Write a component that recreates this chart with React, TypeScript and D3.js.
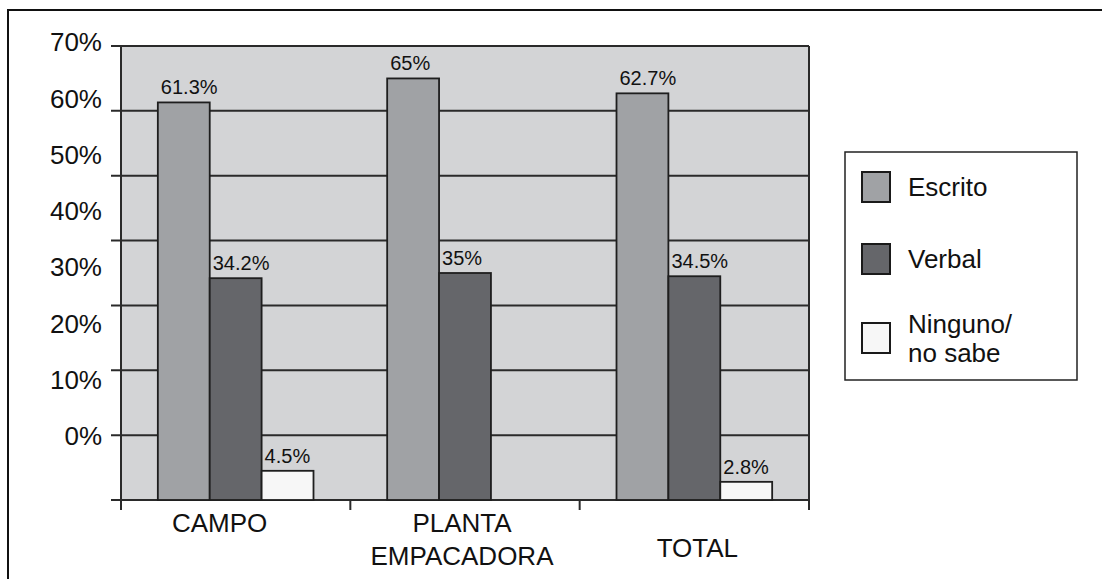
import React from "react";
import * as d3 from "d3";

const categories = ["CAMPO", "PLANTA\nEMPACADORA", "TOTAL"];
const seriesNames = ["Escrito", "Verbal", "Ninguno/\nno sabe"];
const escrito = [61.3, 65, 62.7];
const verbal = [34.2, 35, 34.5];
const ninguno = [4.5, null, 2.8];
const valueLabels = [
  ["61.3%", "34.2%", "4.5%"],
  ["65%", "35%", ""],
  ["62.7%", "34.5%", "2.8%"],
];
const yTicks = [0, 10, 20, 30, 40, 50, 60, 70];
const colors = ["#a0a2a5", "#65666a", "#f7f7f7"];

const W = 1102;
const H = 579;
const FONT = "'Liberation Sans', Arial, Helvetica, sans-serif";

export default function App() {
  const left = 121, right = 809, top = 46, bottom = 500;
  const y = d3.scaleLinear().domain([0, 70]).range([bottom, top]);
  // tick labels in the reference sit on their own (shifted) spacing
  const yLabel = d3.scaleLinear().domain([0, 70]).range([435.8, 42]);
  const x0 = d3.scaleBand<string>().domain(categories).range([left, right]).padding(0);
  const x1 = d3
    .scaleBand<string>()
    .domain(seriesNames)
    .range([0, x0.bandwidth()])
    .paddingInner(0)
    .paddingOuter(0.71);
  const series = [escrito, verbal, ninguno];
  const labelDx = [-16, -3, 3];
  const labelDy = [532, 532, 557];
  const legendTops = [172, 244, 323];

  return (
    <svg
      width={W}
      height={H}
      style={{ position: "absolute", left: 0, top: 0, background: "#fff" }}
      fontFamily={FONT}
    >
      <rect x={8} y={10} width={1200} height={700} fill="#fff" stroke="#111" strokeWidth={2} />
      {/* plot background */}
      <rect x={left} y={top} width={right - left} height={bottom - top} fill="#d3d4d6" />
      {/* gridlines + left ticks */}
      {yTicks.map((t) => (
        <line
          key={"g" + t}
          x1={left - 10}
          x2={right}
          y1={y(t)}
          y2={y(t)}
          stroke="#2a2a2a"
          strokeWidth={2}
        />
      ))}
      {/* y tick labels */}
      {yTicks.map((t) => (
        <text
          key={"yl" + t}
          x={102}
          y={yLabel(t)}
          dy="0.36em"
          textAnchor="end"
          fontSize={26}
          fill="#111"
        >
          {t + "%"}
        </text>
      ))}
      {/* bars */}
      {categories.map((c, ci) =>
        seriesNames.map((s, si) => {
          const v = series[si][ci];
          if (v == null) return null;
          const bx = (x0(c) as number) + (x1(s) as number);
          return (
            <g key={c + s}>
              <rect
                x={bx}
                y={y(v)}
                width={x1.bandwidth()}
                height={bottom - y(v)}
                fill={colors[si]}
                stroke="#1e1e1e"
                strokeWidth={1.8}
              />
              <text x={bx + 3} y={y(v) - 8} fontSize={20} fill="#111">
                {valueLabels[ci][si]}
              </text>
            </g>
          );
        })
      )}
      {/* plot border right/top */}
      <line x1={left} x2={right} y1={top} y2={top} stroke="#2a2a2a" strokeWidth={2} />
      <line x1={right} x2={right} y1={top} y2={bottom + 10} stroke="#2a2a2a" strokeWidth={2} />
      {/* axes */}
      <line x1={left} x2={left} y1={top} y2={bottom + 10} stroke="#2a2a2a" strokeWidth={2} />
      {categories.map((c) => (
        <line
          key={"xt" + c}
          x1={(x0(c) as number) + x0.bandwidth()}
          x2={(x0(c) as number) + x0.bandwidth()}
          y1={bottom}
          y2={bottom + 10}
          stroke="#2a2a2a"
          strokeWidth={2}
        />
      ))}
      {/* category labels */}
      {categories.map((c, ci) => {
        const lines = c.split("\n");
        const cx = (x0(c) as number) + x0.bandwidth() / 2 + labelDx[ci];
        return (
          <text key={"cl" + c} x={cx} y={labelDy[ci]} textAnchor="middle" fontSize={26} fill="#111">
            {lines.map((l, li) => (
              <tspan key={li} x={cx} dy={li === 0 ? 0 : 32.5}>
                {l}
              </tspan>
            ))}
          </text>
        );
      })}
      {/* legend */}
      <rect x={845} y={152} width={232} height={228} fill="#fff" stroke="#222" strokeWidth={1.5} />
      {seriesNames.map((s, si) => {
        const ty = legendTops[si];
        const lines = s.split("\n");
        const cy = ty + 15;
        const firstBase = cy + 9.3 - ((lines.length - 1) * 29) / 2;
        return (
          <g key={"lg" + s}>
            <rect x={862} y={ty} width={28} height={30} fill={colors[si]} stroke="#1a1a1a" strokeWidth={2} />
            <text x={908} y={firstBase} fontSize={26} fill="#111">
              {lines.map((l, li) => (
                <tspan key={li} x={908} dy={li === 0 ? 0 : 29}>
                  {l}
                </tspan>
              ))}
            </text>
          </g>
        );
      })}
    </svg>
  );
}
